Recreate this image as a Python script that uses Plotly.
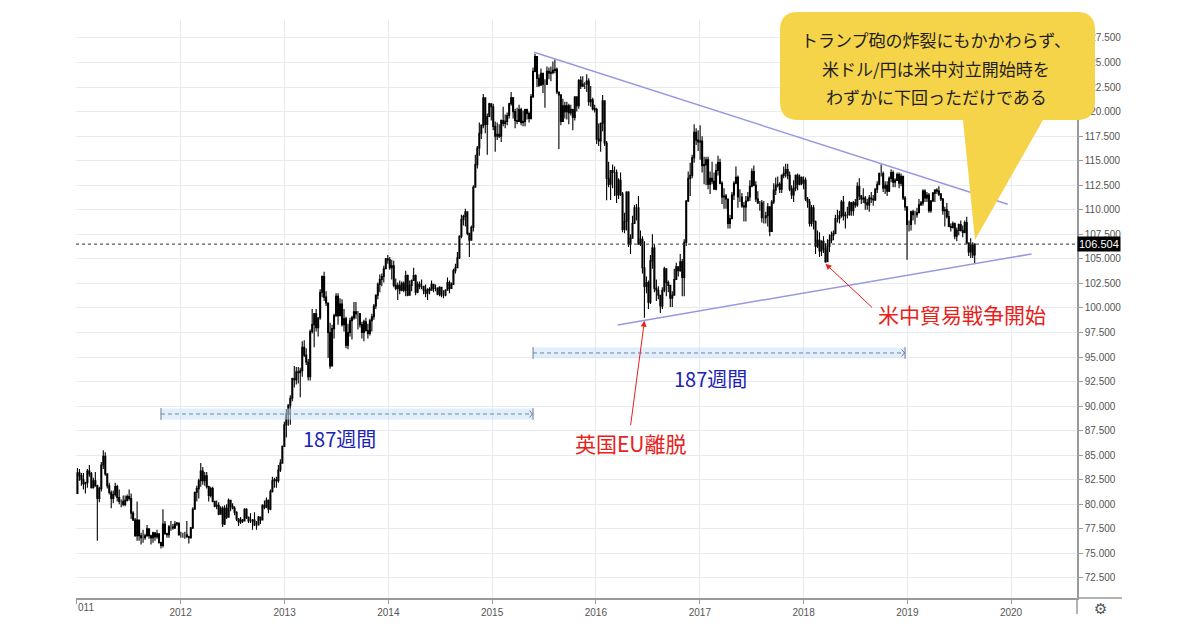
import pandas as pd
import plotly.graph_objects as go

# ---------------- weekly USD/JPY ----------------
first_open = 81.1

close_2011 = [83.2,82.9,82.5,82.1,82.2,83.4,83.1,81.7,82.4,81.9,80.6,81.6,84.0,84.9,83.1,81.9,81.2,80.6,81.0,81.8,80.7,80.3,80.3,80.0,80.4,80.8,80.6,79.1,78.4,76.8,78.4,76.8,76.6,76.6,76.8,77.5,76.8,76.6,77.1,76.7,77.0,76.1,75.8,78.0,77.0,76.9,77.7,77.7,77.6,78.0,78.1,76.9]
high_2011 = [83.7,83.6,83.2,83.2,82.3,83.6,84.0,83.3,82.7,83.3,82.0,81.8,84.3,85.5,85.3,83.1,82.2,81.4,81.4,82.2,82.0,81.5,80.5,80.9,80.9,81.0,81.5,81.1,79.3,78.6,80.3,78.2,77.1,77.4,77.0,77.9,77.3,76.9,77.2,77.0,77.4,77.0,76.2,79.5,78.3,77.1,77.9,78.3,78.0,78.3,78.2,78.0]
low_2011 = [81.3,82.4,81.9,81.5,81.1,81.7,82.8,81.6,81.6,81.8,76.3,80.2,81.3,83.6,82.9,81.6,81.0,79.6,80.1,80.8,80.3,80.0,79.7,79.8,79.8,80.3,80.4,78.5,78.3,76.7,76.3,76.3,75.9,76.1,76.4,76.7,76.5,75.9,76.1,76.3,76.5,76.0,75.5,75.6,76.9,76.6,76.6,77.3,77.4,77.5,77.8,76.8]

close_2012 = [76.9,76.9,76.9,76.7,76.6,77.6,79.5,81.2,81.6,82.4,83.4,82.4,82.9,81.8,80.9,81.6,80.3,79.8,79.9,79.0,79.6,78.0,79.6,78.7,80.4,79.8,79.6,79.2,78.5,78.2,78.4,78.3,79.5,78.7,78.3,78.3,78.4,77.9,77.9,78.7,78.4,79.9,79.7,80.4,79.5,81.3,82.4,82.5,82.4,83.5,84.2,85.9,88.1]
high_2012 = [77.2,77.1,77.2,78.3,76.8,77.7,79.7,81.3,81.9,82.6,84.2,83.8,83.3,83.3,81.9,81.8,81.8,80.3,80.4,80.2,79.8,79.8,79.9,80.0,80.6,80.4,80.1,79.8,79.3,78.6,78.7,78.5,79.6,79.6,78.7,79.1,78.5,79.2,78.3,78.8,78.6,80.0,80.4,80.7,80.5,81.5,82.8,82.7,82.8,84.0,84.6,86.0,88.4]
low_2012 = [76.6,76.6,76.5,76.6,76.0,76.5,77.5,79.5,80.3,80.6,81.8,82.0,81.9,81.6,80.3,80.7,80.2,79.7,79.5,78.9,79.0,77.7,77.9,78.5,78.7,79.3,79.5,78.9,78.3,77.8,78.0,78.1,78.4,78.5,78.1,78.1,77.4,77.8,77.4,77.9,78.0,78.4,79.5,79.6,79.1,79.4,81.2,81.7,81.7,82.2,83.3,84.3,86.1]

close_2013 = [89.2,90.1,90.8,92.8,92.7,93.5,93.4,93.6,96.0,95.2,94.5,93.0,97.6,98.3,99.4,98.0,99.0,101.6,103.2,101.1,100.5,97.5,94.1,97.9,99.2,101.2,99.2,100.4,98.3,98.9,96.2,97.5,98.7,99.0,99.6,99.4,99.4,98.3,97.5,98.6,97.7,97.4,98.7,99.1,100.2,101.3,102.4,102.9,103.2,104.0,105.0,104.9]
high_2013 = [89.7,90.2,91.1,92.9,94.1,94.0,94.0,93.9,96.6,96.7,95.9,94.8,97.8,99.9,99.5,99.9,99.0,101.9,103.3,103.7,101.7,100.4,98.5,98.3,99.4,101.5,101.5,101.0,100.9,99.9,99.1,98.4,99.0,99.2,100.6,100.6,99.7,99.5,98.6,98.8,99.0,98.4,98.9,99.4,100.4,101.4,102.6,103.4,103.5,104.3,105.1,105.4]
low_2013 = [86.8,88.0,88.1,90.5,91.9,92.2,92.3,90.9,93.0,95.0,94.2,92.6,92.6,97.4,96.0,97.6,97.1,98.8,101.1,100.7,100.2,94.9,93.8,94.3,96.9,99.1,98.3,99.3,98.1,97.6,95.9,95.8,97.1,96.8,98.8,98.9,97.8,98.0,96.9,96.6,97.6,96.9,97.2,97.6,98.8,99.9,100.9,101.6,102.2,102.6,104.1,104.5]

close_2014 = [104.1,104.3,102.3,102.0,102.3,101.8,102.5,101.8,103.3,101.3,102.3,102.8,103.3,101.6,102.4,102.2,102.2,101.8,101.5,101.9,101.8,102.4,102.0,102.0,101.4,102.1,101.3,101.3,101.8,102.6,102.0,102.4,103.8,104.1,105.1,107.3,109.0,109.3,109.8,107.6,106.9,108.2,112.3,114.6,116.3,117.8,118.6,121.4,118.7,119.5,120.8,120.5]
high_2014 = [105.2,104.9,104.8,103.0,102.6,102.8,102.7,102.7,103.8,103.4,102.8,102.9,104.1,103.4,102.7,102.7,102.9,102.2,102.4,102.0,102.1,102.8,102.4,102.4,102.1,102.2,102.1,101.8,101.9,103.1,102.8,102.6,104.0,104.5,105.7,107.4,109.5,109.5,110.1,109.2,107.6,108.4,112.5,115.6,116.5,118.9,118.7,121.8,121.4,119.8,120.9,120.8]
low_2014 = [103.9,102.9,102.1,101.8,100.8,101.4,101.7,101.6,101.2,101.2,101.3,101.7,102.9,101.3,101.5,101.9,101.9,101.4,101.1,100.8,101.4,101.8,101.6,101.7,101.3,101.2,101.1,101.0,101.2,101.8,101.5,102.0,102.4,103.5,104.2,105.0,107.1,108.4,108.3,107.4,105.2,106.9,107.8,112.3,114.2,115.5,117.2,118.3,117.8,115.6,119.6,119.1]

close_2015 = [118.5,117.5,117.7,117.5,119.1,118.8,119.0,119.6,120.8,121.4,120.0,119.1,119.0,120.2,118.9,119.0,120.2,119.8,119.3,121.5,124.1,125.6,123.4,122.7,123.9,122.8,122.8,124.1,123.9,124.0,124.2,124.3,122.0,121.7,119.0,120.6,120.0,120.6,119.9,120.2,119.4,121.5,120.6,123.2,122.6,122.8,122.8,123.1,121.0,121.2,120.3,120.2]
high_2015 = [120.8,119.0,118.9,118.7,119.2,120.5,119.7,119.9,120.9,122.0,121.5,120.3,120.4,120.7,120.4,120.1,120.3,120.3,120.0,121.8,124.5,125.9,125.3,123.8,124.4,123.7,123.3,124.6,124.5,124.6,125.1,125.3,124.5,121.8,121.2,121.3,121.0,121.0,120.8,120.7,120.3,121.5,121.5,123.3,123.6,123.6,123.0,123.8,123.4,122.6,121.4,120.7]
low_2015 = [118.1,115.9,117.1,117.3,116.9,118.5,118.3,118.6,119.3,120.6,119.3,118.3,118.7,119.6,118.6,118.5,118.5,119.2,118.9,119.2,121.4,124.0,122.5,122.5,122.8,121.9,120.4,122.7,123.3,123.1,123.8,123.9,121.8,116.2,118.6,119.2,119.3,119.2,118.7,119.6,118.1,119.1,120.0,120.3,122.3,122.5,122.3,122.0,120.6,120.5,120.1,119.9]

close_2016 = [117.2,117.0,118.8,121.1,116.8,113.2,112.6,114.0,113.8,113.8,111.5,113.0,111.6,108.0,108.8,111.8,106.5,107.1,108.6,110.2,110.2,106.5,107.0,104.1,102.2,102.6,100.6,104.8,106.1,102.0,101.8,101.3,100.2,101.8,104.0,102.6,102.3,101.0,101.3,102.9,104.2,103.8,104.7,103.1,106.7,110.9,113.2,113.5,115.3,117.9,117.1,116.9]
high_2016 = [120.4,118.8,118.9,121.7,121.1,117.0,114.9,114.0,114.6,114.4,114.1,113.2,113.8,111.8,109.7,111.9,111.9,107.5,109.4,110.5,110.6,111.4,107.9,107.3,106.8,103.2,102.8,105.4,107.5,106.5,102.9,102.2,101.3,102.1,104.2,104.0,102.8,102.1,101.7,104.0,104.6,104.2,105.5,105.0,107.0,111.0,113.9,114.8,115.6,118.7,118.3,118.1]
low_2016 = [116.7,116.5,115.9,118.0,116.5,110.98,112.3,111.0,112.2,111.4,110.7,111.1,111.4,107.7,107.6,107.9,106.2,105.5,107.9,108.9,108.9,106.5,106.3,103.5,99.0,101.5,99.9,100.4,104.0,101.6,100.7,100.9,99.5,99.9,101.6,101.2,101.6,100.1,100.1,101.3,102.9,103.2,103.7,101.2,101.2,106.3,110.8,111.4,113.2,114.8,116.6,116.0]

close_2017 = [117.0,114.5,114.6,115.1,112.6,113.2,112.9,112.1,114.0,114.8,112.7,111.3,111.4,111.1,108.6,109.1,111.5,112.7,113.3,111.3,111.3,110.4,110.3,110.9,111.3,112.4,113.9,112.5,111.1,110.7,110.7,109.2,109.2,109.4,110.3,107.8,110.8,112.0,112.5,112.6,112.1,113.5,113.7,114.1,113.5,112.1,111.5,112.2,113.5,112.6,113.3,112.7]
high_2017 = [118.6,117.5,115.4,115.4,115.4,113.9,114.9,113.8,114.7,115.5,115.2,112.9,112.2,111.6,111.0,109.5,111.8,112.9,114.4,113.5,112.1,111.7,110.8,111.4,111.8,113.0,114.2,114.5,112.9,111.9,110.9,111.0,110.9,109.8,110.7,110.3,111.0,112.7,113.3,113.4,112.8,113.6,114.4,114.7,114.7,113.9,112.5,113.0,113.6,113.7,113.6,113.4]
low_2017 = [115.1,113.8,112.6,112.5,112.1,111.6,112.6,112.1,112.0,113.5,112.6,110.6,110.1,110.1,108.1,108.1,109.2,111.0,112.6,110.2,110.8,110.2,108.8,108.8,110.9,110.9,112.3,112.4,110.8,110.6,109.9,108.7,108.6,108.6,108.3,107.3,107.8,110.6,111.5,112.3,111.7,111.7,113.2,113.3,113.1,111.9,111.1,110.8,111.9,112.0,112.5,112.5]

close_2018 = [113.0,111.1,110.8,108.6,110.2,108.8,106.3,106.9,105.8,106.8,106.0,104.7,106.3,106.9,107.4,107.6,109.1,109.1,109.4,110.8,109.4,109.5,109.5,110.7,109.9,110.7,110.5,112.4,111.4,111.1,111.2,110.7,110.5,111.2,111.1,111.0,112.1,112.6,113.7,113.7,112.2,112.5,111.9,113.2,113.8,112.8,113.0,113.6,112.7,113.4,111.2,110.3,108.5]
high_2018 = [113.4,113.3,111.3,111.1,110.5,110.5,108.9,107.9,107.7,106.9,107.3,106.6,107.0,107.5,107.8,107.9,109.5,110.0,109.9,111.0,111.4,109.8,110.3,110.9,110.8,110.9,111.1,112.8,113.2,111.5,112.2,111.4,111.1,111.5,111.8,111.5,112.2,112.9,113.8,114.6,113.9,112.9,112.9,113.4,114.1,114.0,113.2,113.8,113.8,113.7,113.3,111.4,110.0]
low_2018 = [112.1,110.9,110.2,108.3,108.3,108.0,105.5,106.1,105.2,105.3,105.6,104.6,105.0,105.7,106.6,106.9,107.5,108.7,108.6,109.2,108.9,108.1,109.1,109.4,109.4,109.4,110.2,110.3,111.0,110.6,110.7,110.0,110.0,109.8,110.7,110.4,110.9,111.7,112.5,113.4,111.8,111.6,111.4,111.8,112.8,112.3,112.3,113.0,112.2,112.4,111.0,109.9,104.9]

close_2019 = [108.5,109.8,109.5,109.5,109.7,110.5,110.7,111.9,111.2,111.5,109.9,110.9,111.7,112.0,111.9,111.6,111.1,109.9,110.0,109.3,108.3,108.2,108.6,107.3,107.9,108.5,107.9,107.7,108.7,106.6,105.7,106.4,105.4,106.5]
high_2019 = [108.9,109.9,110.0,109.9,110.2,111.1,110.9,112.1,112.1,111.8,111.7,111.0,111.8,112.1,112.2,112.4,111.7,111.2,110.3,110.7,109.9,108.6,108.8,108.7,108.2,108.6,108.9,108.4,108.9,109.3,106.7,107.1,106.7,106.6]
low_2019 = [107.8,107.9,108.9,108.5,109.2,109.7,110.4,110.4,110.8,110.8,109.7,109.7,110.8,110.8,111.6,111.4,110.9,109.5,108.3,109.1,108.3,107.8,108.1,107.0,106.8,107.4,107.8,107.2,107.6,106.6,105.3,105.1,105.1,104.5]

years = [2011, 2012, 2013, 2014, 2015, 2016, 2017, 2018, 2019]
closes = [close_2011, close_2012, close_2013, close_2014, close_2015, close_2016, close_2017, close_2018, close_2019]
highs = [high_2011, high_2012, high_2013, high_2014, high_2015, high_2016, high_2017, high_2018, high_2019]
lows = [low_2011, low_2012, low_2013, low_2014, low_2015, low_2016, low_2017, low_2018, low_2019]

current_price = 106.504

# trend lines (date, price)
upper_line = [("2015-05-29", 126.04), ("2019-12-20", 110.56)]
lower_line = [("2016-03-18", 98.27), ("2020-03-13", 105.5)]

# 187-week measurement ranges (start, end, price level)
ranges_187 = [("2011-10-24", "2015-05-25", 89.2), ("2015-05-25", "2018-12-24", 95.42)]
range_labels = [("2013-07-14", 86.66, "187週間"), ("2017-02-06", 92.77, "187週間")]

# event markers
brexit = {"x": "2016-06-20", "y": 98.7, "tx": "2016-05-03", "ty": 86.25, "text": "英国EU離脱"}
tradewar = {"x": "2018-03-19", "y": 104.5, "tx": "2019-07-13", "ty": 99.4, "text": "米中貿易戦争開始"}

bubble_lines = ["トランプ砲の炸裂にもかかわらず、", "米ドル/円は米中対立開始時を", "わずかに下回っただけである"]

year_ticks = ["2011-01-01", "2012-01-01", "2013-01-01", "2014-01-01", "2015-01-01",
              "2016-01-01", "2017-01-01", "2018-01-01", "2019-01-01", "2020-01-01"]
year_labels = ["", "2012", "2013", "2014", "2015", "2016", "2017", "2018", "2019", "2020"]
price_ticks = [72.5 + 2.5 * i for i in range(23)]

# ---------------- build series ----------------
dates, c, h, l = [], [], [], []
for y, cc, hh, ll in zip(years, closes, highs, lows):
    d = pd.date_range(f"{y}-01-01", periods=len(cc), freq="W-MON")
    dates += list(d)
    c += cc
    h += hh
    l += ll
o = [first_open] + c[:-1]
h = [max(a, b, x) for a, b, x in zip(h, o, c)]
l = [min(a, b, x) for a, b, x in zip(l, o, c)]

# page has an 8px body margin; plot area on the page spans x 76..1077, y 20..598
OFF = 8
W, H = 1200 - OFF, 630 - OFF
PL, PR, PT, PB = 76, 1077, 20, 598
ML, MR, MT, MB = PL - OFF, 1200 - PR, PT - OFF, 630 - PB
PW, PH = PR - PL, PB - PT


def px(xp):
    return (xp - PL) / PW


def py(yp):
    return (PB - yp) / PH


fig = go.Figure()
fig.add_trace(go.Candlestick(
    x=dates, open=o, high=h, low=l, close=c,
    increasing=dict(line=dict(color="#000000", width=1.1), fillcolor="#9a9a9a"),
    decreasing=dict(line=dict(color="#000000", width=1.1), fillcolor="#000000"),
    whiskerwidth=0, showlegend=False, hoverinfo="skip",
))

shapes = []
# measurement bands
for x0, x1, yv in ranges_187:
    shapes.append(dict(type="rect", xref="x", yref="y", x0=x0, x1=x1, y0=yv - 0.55, y1=yv + 0.55,
                       fillcolor="rgba(200,224,248,0.55)", line=dict(width=0), layer="above"))
    shapes.append(dict(type="line", xref="x", yref="y", x0=x0, x1=x1, y0=yv, y1=yv,
                       line=dict(color="#74849c", width=1, dash="4px,3px"), layer="above"))
    shapes.append(dict(type="line", xref="x", yref="y", x0=x0, x1=x0, y0=yv - 0.6, y1=yv + 0.6,
                       line=dict(color="#6b7b92", width=1), layer="above"))
    shapes.append(dict(type="line", xref="x", yref="y", x0=x1, x1=x1, y0=yv - 0.6, y1=yv + 0.6,
                       line=dict(color="#6b7b92", width=1), layer="above"))
    x1d = pd.Timestamp(x1)
    shapes.append(dict(type="path", xref="x", yref="y",
                       path=f"M {(x1d - pd.Timedelta(days=12)).strftime('%Y-%m-%d')},{yv + 0.35} "
                            f"L {(x1d - pd.Timedelta(days=2)).strftime('%Y-%m-%d')},{yv} "
                            f"L {(x1d - pd.Timedelta(days=12)).strftime('%Y-%m-%d')},{yv - 0.35}",
                       line=dict(color="#6b7b92", width=1), layer="above"))

# trend lines
for (xa, ya), (xb, yb) in [upper_line, lower_line]:
    shapes.append(dict(type="line", xref="x", yref="y", x0=xa, y0=ya, x1=xb, y1=yb,
                       line=dict(color="#9898e2", width=1.5), layer="above"))

# current price dotted line
shapes.append(dict(type="line", xref="paper", yref="y", x0=0, x1=1, y0=current_price, y1=current_price,
                   line=dict(color="#333333", width=1, dash="dot"), layer="above"))

# axis extensions
shapes.append(dict(type="line", xref="paper", yref="paper", x0=1, x1=px(1122), y0=0, y1=0,
                   line=dict(color="#9a9a9a", width=1.5), layer="above"))
shapes.append(dict(type="line", xref="paper", yref="paper", x0=1, x1=1, y0=py(614), y1=0,
                   line=dict(color="#9a9a9a", width=1.5), layer="above"))

# speech bubble
bx0, bx1, by0, by1, r = 780, 1095, 12, 120, 18
pts = [
    ("M", (bx0 + r, by0)), ("L", (bx1 - r, by0)), ("Q", (bx1, by0), (bx1, by0 + r)),
    ("L", (bx1, by1 - r)), ("Q", (bx1, by1), (bx1 - r, by1)),
    ("L", (1043, by1)), ("L", (975, 240)), ("L", (963, by1)),
    ("L", (bx0 + r, by1)), ("Q", (bx0, by1), (bx0, by1 - r)),
    ("L", (bx0, by0 + r)), ("Q", (bx0, by0), (bx0 + r, by0)),
]
path = ""
for item in pts:
    cmd = item[0]
    coords = " ".join(f"{px(a):.5f},{py(b):.5f}" for a, b in item[1:])
    path += f"{cmd} {coords} "
path += "Z"
shapes.append(dict(type="path", xref="paper", yref="paper", path=path,
                   fillcolor="#f6d44a", line=dict(width=0), layer="above"))

annotations = []
jp = "Noto Sans CJK JP"
for i, line in enumerate(bubble_lines):
    annotations.append(dict(xref="paper", yref="paper", x=px(936), y=py(40 + 28 * i), text=line,
                            showarrow=False, xanchor="center", yanchor="middle",
                            font=dict(family=jp, size=17, color="#1e1e1e")))

for xt, yt, txt in range_labels:
    annotations.append(dict(xref="x", yref="y", x=xt, y=yt, text=txt, showarrow=False,
                            font=dict(family=jp, size=20, color="#1b22b4")))

for ev, tail in [(brexit, (-14, 106)), (tradewar, (48, 45))]:
    annotations.append(dict(xref="x", yref="y", x=ev["x"], y=ev["y"], text="", showarrow=True,
                            ax=tail[0], ay=tail[1], arrowhead=2, arrowsize=1.2, arrowwidth=1,
                            arrowcolor="#e8211b"))
    annotations.append(dict(xref="x", yref="y", x=ev["tx"], y=ev["ty"], text=ev["text"], showarrow=False,
                            font=dict(family=jp, size=21, color="#e8211b")))

annotations.append(dict(xref="paper", yref="y", x=1, y=current_price, xanchor="left", yanchor="middle",
                        text="106.504", showarrow=False, bgcolor="#000000", borderpad=1,
                        font=dict(family="Liberation Sans", size=11, color="#ffffff")))
annotations.append(dict(xref="paper", yref="paper", x=0, y=py(607), xanchor="left", yanchor="middle",
                        text="011", showarrow=False,
                        font=dict(family="Liberation Sans", size=10, color="#555555")))
annotations.append(dict(xref="paper", yref="paper", x=px(1100), y=py(609), xanchor="center", yanchor="middle",
                        text="⚙", showarrow=False, font=dict(family="DejaVu Sans", size=15, color="#555555")))

fig.update_layout(
    width=W, height=H, margin=dict(l=ML, r=MR, t=MT, b=MB),
    paper_bgcolor="#ffffff", plot_bgcolor="#ffffff",
    font=dict(family="Liberation Sans", size=10, color="#555555"),
    shapes=shapes, annotations=annotations, showlegend=False,
    xaxis=dict(type="date", range=["2010-12-29", "2020-08-20"], tickvals=year_ticks, ticktext=year_labels,
               showgrid=True, gridcolor="#e8ecf0", gridwidth=1, ticks="outside", ticklen=4,
               tickcolor="#9a9a9a", showline=True, linecolor="#9a9a9a", linewidth=1.5,
               rangeslider=dict(visible=False), zeroline=False, fixedrange=True,
               tickfont=dict(size=10, color="#555555")),
    yaxis=dict(side="right", range=[70.46, 129.33], tickvals=price_ticks, tickformat=".3f",
               showgrid=True, gridcolor="#e8ecf0", gridwidth=1, ticks="outside", ticklen=4,
               tickcolor="#9a9a9a", showline=True, linecolor="#9a9a9a", linewidth=1.5,
               zeroline=False, fixedrange=True, tickfont=dict(size=10, color="#555555")),
)

fig.write_html("out.html")
